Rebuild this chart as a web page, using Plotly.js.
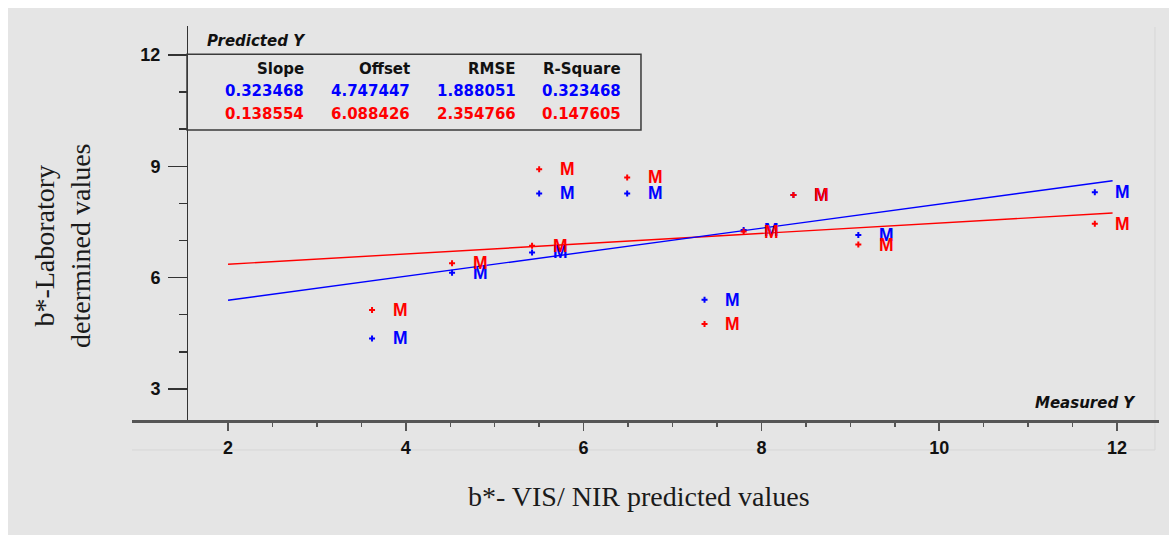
<!DOCTYPE html>
<html><head><meta charset="utf-8">
<script src="https://cdn.plot.ly/plotly-3.0.1.min.js"></script>
<style>
html,body{margin:0;padding:0;background:#ffffff;width:1169px;height:535px;overflow:hidden}
#chart{position:absolute;left:8px;top:8px;width:1161px;height:527px}
</style></head>
<body><div id="chart"></div>
<script>
// Measured Y (x axis) for each sample
const measured  = [3.62, 4.52, 5.42, 5.50, 6.49, 7.36, 7.80, 8.36, 9.09, 11.75];
// Predicted Y, blue series and red series
const bluePred  = [4.36, 6.13, 6.68, 8.27, 8.27, 5.40, 7.28, 8.23, 7.15, 8.30];
const redPred   = [5.13, 6.39, 6.86, 8.92, 8.70, 4.75, 7.24, 8.23, 6.89, 7.45];
const sampleLabel = 'M';
// regression lines (end points)
const lineX     = [2, 11.95];
const blueLineY = [5.39, 8.61];
const redLineY  = [6.36, 7.74];
// statistics table
const statHeaders = ['Slope', 'Offset', 'RMSE', 'R-Square'];
const blueStats   = ['0.323468', '4.747447', '1.888051', '0.323468'];
const redStats    = ['0.138554', '6.088426', '2.354766', '0.147605'];
// ticks
const xTickVals  = [2, 4, 6, 8, 10, 12];
const xTickText  = ['2', '4', '6', '8', '10', '12'];
const xMinorVals = [2.5, 3, 3.5, 4.5, 5, 5.5, 6.5, 7, 7.5, 8.5, 9, 9.5, 10.5, 11, 11.5];
const yTickVals  = [3, 6, 9, 12];
const yTickText  = ['3', '6', '9', '12'];
const yMinorVals = [4, 5, 7, 8, 10, 11];

const BLUE = '#0000ff', RED = '#ff0000';
const TICKFONT = {family: 'Liberation Sans, Arial, sans-serif', size: 18, color: '#111', weight: 'bold'};

const traces = [
  {x: lineX, y: redLineY, mode: 'lines', line: {color: RED, width: 1.4}, hoverinfo: 'skip', showlegend: false},
  {x: lineX, y: blueLineY, mode: 'lines', line: {color: BLUE, width: 1.4}, hoverinfo: 'skip', showlegend: false},
  {x: measured, y: bluePred, mode: 'markers', marker: {symbol: 'cross', size: 5, color: BLUE}, showlegend: false},
  {x: measured, y: redPred, mode: 'markers', marker: {symbol: 'cross', size: 5, color: RED}, showlegend: false}
];

const annotations = [];
const mFont = c => ({family: 'Liberation Sans, Arial, sans-serif', size: 17.5, color: c, weight: 'bold'});
measured.forEach((mx, i) => {
  annotations.push({x: mx, y: bluePred[i], xref: 'x', yref: 'y', text: '<b>' + sampleLabel + '</b>', showarrow: false,
    xshift: 28, xanchor: 'center', yanchor: 'middle', font: mFont(BLUE)});
});
measured.forEach((mx, i) => {
  annotations.push({x: mx, y: redPred[i], xref: 'x', yref: 'y', text: '<b>' + sampleLabel + '</b>', showarrow: false,
    xshift: 28, xanchor: 'center', yanchor: 'middle', font: mFont(RED)});
});

// table text (paper positions)
const colRight = [0.1694, 0.2726, 0.3759, 0.4781];
const rowY = [0.8901, 0.8358, 0.7766];
const tblFont = c => ({family: 'DejaVu Sans, Verdana, sans-serif', size: 15, color: c});
[[statHeaders, '#111'], [blueStats, BLUE], [redStats, RED]].forEach((row, r) => {
  row[0].forEach((t, c) => {
    annotations.push({xref: 'paper', yref: 'paper', x: colRight[c], y: rowY[r], text: '<b>' + t + '</b>',
      showarrow: false, xanchor: 'right', yanchor: 'middle', font: tblFont(row[1])});
  });
});

annotations.push({xref: 'paper', yref: 'paper', x: 0.0711, y: 0.9627, text: '<b><i>Predicted Y</i></b>', showarrow: false,
  xanchor: 'left', yanchor: 'middle', font: {family: 'DejaVu Sans, Verdana, sans-serif', size: 15, color: '#111'}});
annotations.push({xref: 'paper', yref: 'paper', x: 0.9795, y: 0.0431, text: '<b><i>Measured Y</i></b>', showarrow: false,
  xanchor: 'right', yanchor: 'middle', font: {family: 'DejaVu Sans, Verdana, sans-serif', size: 15, color: '#111'}});
annotations.push({xref: 'paper', yref: 'paper', x: -0.0682, y: 0.4416, text: 'b*-Laboratory<br>determined values', showarrow: false,
  textangle: -90, xanchor: 'center', yanchor: 'middle', font: {family: 'Liberation Serif, Times New Roman, serif', size: 28, color: '#1a1a1a'}});
annotations.push({xref: 'paper', yref: 'paper', x: 0.4937, y: -0.1954, text: 'b*- VIS/ NIR predicted values', showarrow: false,
  xanchor: 'center', yanchor: 'middle', font: {family: 'Liberation Serif, Times New Roman, serif', size: 28, color: '#1a1a1a'}});

const shapes = [
  // faint panel edges
  {type: 'line', xref: 'paper', yref: 'paper', x0: 0.9961, x1: 0.9961, y0: -0.0761, y1: 0.9975, line: {color: '#d6d6d6', width: 1}, layer: 'below'},
  {type: 'line', xref: 'paper', yref: 'paper', x0: 0.0, x1: 0.9961, y0: -0.0761, y1: -0.0761, line: {color: '#d6d6d6', width: 1}, layer: 'below'},
  // statistics box
  {type: 'rect', xref: 'paper', yref: 'paper', x0: 0.05355, x1: 0.4956, y0: 0.7360, y1: 0.9282, line: {color: '#3a3a3a', width: 1.5}}
];

const layout = {
  width: 1161, height: 527,
  margin: {l: 124, r: 10, t: 18, b: 115},
  paper_bgcolor: '#e5e5e5', plot_bgcolor: '#e5e5e5',
  showlegend: false,
  xaxis: {
    range: [0.92, 12.472], showgrid: false, zeroline: false,
    showline: true, linecolor: '#555', linewidth: 2.5,
    tickmode: 'array', tickvals: xTickVals, ticktext: xTickText,
    ticks: 'outside', ticklen: 8, tickwidth: 1.5, tickcolor: '#555',
    ticklabelstandoff: 2, tickfont: TICKFONT,
    minor: {tickmode: 'array', tickvals: xMinorVals, ticks: 'outside', ticklen: 4, tickwidth: 1.5, tickcolor: '#555', showgrid: false}
  },
  yaxis: {
    range: [2.162, 12.782], showgrid: false, zeroline: false,
    anchor: 'free', position: 0.05355,
    showline: true, linecolor: '#333', linewidth: 1.5,
    tickmode: 'array', tickvals: yTickVals, ticktext: yTickText,
    ticks: 'outside', ticklen: 19, tickwidth: 1.5, tickcolor: '#333',
    ticklabelstandoff: 4, tickfont: TICKFONT,
    minor: {tickmode: 'array', tickvals: yMinorVals, ticks: 'outside', ticklen: 8, tickwidth: 1.5, tickcolor: '#333', showgrid: false}
  },
  annotations: annotations,
  shapes: shapes
};

Plotly.newPlot('chart', traces, layout, {displayModeBar: false, staticPlot: true});
</script>
</body></html>
